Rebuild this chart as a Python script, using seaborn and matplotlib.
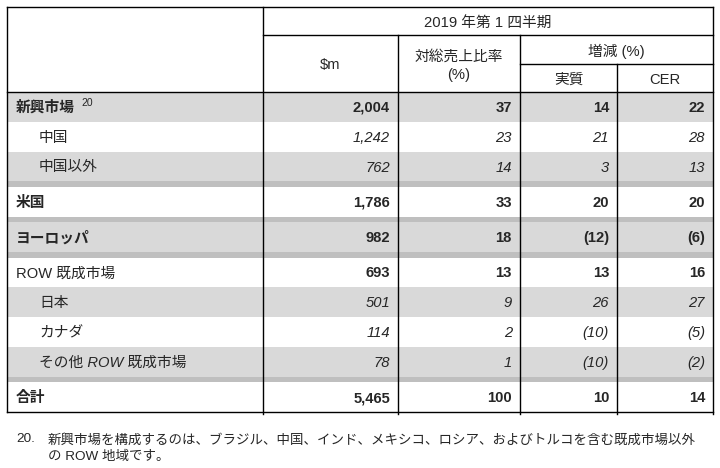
import numpy as np
import pandas as pd
import seaborn as sns
import matplotlib
matplotlib.use("Agg")
import matplotlib.pyplot as plt

# ---------------- data ----------------
row_labels = ['新興市場', '中国', '中国以外', '米国', 'ヨーロッパ',
              'ROW 既成市場', '日本', 'カナダ', 'その他 ROW 既成市場', '合計']
sales_m = [2004, 1242, 762, 1786, 982, 693, 501, 114, 78, 5465]
pct_of_total = [37, 23, 14, 33, 18, 13, 9, 2, 1, 100]
change_actual = [14, 21, 3, 20, -12, 13, 26, -10, -10, 10]
change_cer = [22, 28, 13, 20, -6, 16, 27, -5, -2, 14]
row_kind = ['main', 'sub', 'sub', 'main', 'main', 'main', 'sub', 'sub', 'sub', 'main']
label_bold = [True, False, False, True, True, False, False, False, False, True]
header_period = '2019 年第 1 四半期'
header_cols = ['$m', '対総売上比率\n(%)', '実質', 'CER']
header_change = '増減 (%)'
footnote_num = '20.'
footnote_text = ('新興市場を構成するのは、ブラジル、中国、インド、メキシコ、ロシア、およびトルコを含む既成市場以外\n'
                 'の ROW 地域です。')

df = pd.DataFrame({'label': row_labels, 'sm': sales_m, 'pct': pct_of_total,
                   'act': change_actual, 'cer': change_cer, 'kind': row_kind,
                   'lbold': label_bold})

# ---------------- style ----------------
sns.set_theme(style='white')
FONTS = ['Liberation Sans', 'Noto Sans CJK JP', 'DejaVu Sans']
plt.rcParams['font.family'] = FONTS

GREY = '#d9d9d9'
DARK = '#bfbfbf'
LW = 1.0
FS = 10.6
FS_NOTE = 9.7

fig = plt.figure(figsize=(7.2, 4.68), dpi=100)
ax = fig.add_axes([0, 0, 1, 1])
ax.set_xlim(0, 720)
ax.set_ylim(468, 0)
ax.axis('off')

# layout (pixel units)
x_left, x_lab, x_sm, x_pct, x_act, x_right = 6.5, 263, 398, 520, 617, 713
y_top, y_mid1, y_mid2, y_hdr = 7, 35, 64, 92
row_h = 29.8
sep_h = 5.5
sep_after = {2, 3, 4, 8}

tops = []
y = y_hdr
for i in range(len(df)):
    tops.append(y)
    y += row_h
    if i in sep_after:
        y += sep_h
y_bottom = y

# backgrounds
for i in range(len(df)):
    t = tops[i]
    if i % 2 == 0:
        ax.fill_between([x_left, x_right], t, t + row_h, color=GREY, lw=0, zorder=0)
    if i in sep_after:
        ax.fill_between([x_left, x_right], t + row_h, t + row_h + sep_h,
                        color=DARK, lw=0, zorder=0)

# grid lines
k = dict(color='black', lw=LW, zorder=3, solid_capstyle='projecting')
ax.plot([x_left, x_right], [y_top, y_top], **k)
ax.plot([x_lab, x_right], [y_mid1, y_mid1], **k)
ax.plot([x_pct, x_right], [y_mid2, y_mid2], **k)
ax.plot([x_left, x_right], [y_hdr, y_hdr], **k)
ax.plot([x_left, x_right], [y_bottom, y_bottom], **k)
ax.plot([x_left, x_left], [y_top, y_bottom], **k)
ax.plot([x_lab, x_lab], [y_top, y_bottom + 1.5], **k)
ax.plot([x_sm, x_sm], [y_mid1, y_bottom + 1.5], **k)
ax.plot([x_pct, x_pct], [y_mid1, y_bottom + 1.5], **k)
ax.plot([x_act, x_act], [y_mid2, y_bottom + 1.5], **k)
ax.plot([x_right, x_right], [y_top, y_bottom + 1.5], **k)

# header text
ax.text((x_lab + x_right) / 2, (y_top + y_mid1) / 2 + 1.5, header_period,
        ha='center', va='center', fontsize=FS)
ax.text((x_lab + x_sm) / 2, (y_mid1 + y_hdr) / 2 + 1, header_cols[0],
        ha='center', va='center', fontsize=FS)
ax.text((x_sm + x_pct) / 2, (y_mid1 + y_hdr) / 2 + 2.5, header_cols[1],
        ha='center', va='center', fontsize=FS, linespacing=1.4)
ax.text((x_pct + x_right) / 2, (y_mid1 + y_mid2) / 2 + 1.5, header_change,
        ha='center', va='center', fontsize=FS)
ax.text((x_pct + x_act) / 2, (y_mid2 + y_hdr) / 2 + 1.5, header_cols[2],
        ha='center', va='center', fontsize=FS)
ax.text((x_act + x_right) / 2, (y_mid2 + y_hdr) / 2 + 1.5, header_cols[3],
        ha='center', va='center', fontsize=FS)


def fmt(v, comma=False):
    s = f'{abs(v):,}' if comma else f'{abs(v)}'
    return f'({s})' if v < 0 else s


pad = 8
for i, r in df.iterrows():
    yc = tops[i] + row_h / 2 + 1
    sub = r['kind'] == 'sub'
    style = 'italic' if sub else 'normal'
    weight = 'normal' if sub else 'bold'
    lx = 39 if sub else 16
    ax.text(lx, yc, r['label'], ha='left', va='center', fontsize=FS,
            style=style, weight='bold' if r['lbold'] else 'normal')
    if i == 0:
        ax.text(81, yc - 5, '20', ha='left', va='center', fontsize=7.5)
    vals = [fmt(r['sm'], True), fmt(r['pct']), fmt(r['act']), fmt(r['cer'])]
    rights = [x_sm, x_pct, x_act, x_right]
    for v, xr in zip(vals, rights):
        ax.text(xr - pad, yc, v, ha='right', va='center', fontsize=FS,
                style=style, weight=weight)

# footnote
ax.text(16, 438.5, footnote_num, ha='left', va='center', fontsize=FS_NOTE)
ax.text(48, 448.5, footnote_text, ha='left', va='center', fontsize=FS_NOTE,
        linespacing=1.5)

fig.savefig('out.png', dpi=100, facecolor='white')
